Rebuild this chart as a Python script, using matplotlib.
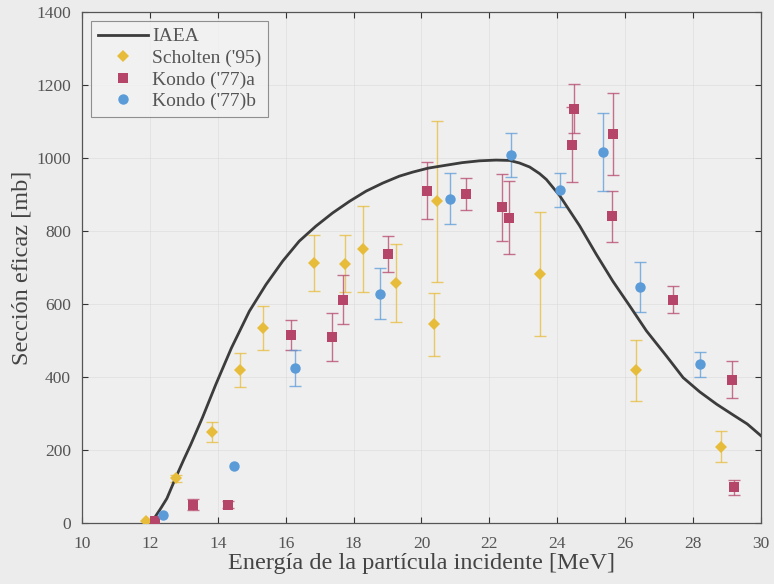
import numpy as np
import matplotlib
matplotlib.use("Agg")
import matplotlib.pyplot as plt

# IAEA evaluated curve
iaea_E = [11.95, 12.1, 12.3, 12.5, 12.76, 13.0, 13.2, 13.55, 13.94, 14.4, 14.93, 15.42,
          15.91, 16.4, 16.89, 17.38, 17.88, 18.37, 18.86, 19.35, 19.74, 20.2, 20.73,
          21.2, 21.71, 22.2, 22.6, 22.89, 23.19, 23.48, 23.68, 24.07, 24.17, 24.66,
          25.15, 25.64, 26.14, 26.63, 27.22, 27.71, 28.2, 28.7, 29.18, 29.6, 30.0]
iaea_sigma = [0, 10, 38, 68, 125, 175, 215, 290, 380, 480, 581, 654,
              718, 773, 814, 850, 882, 910, 932, 951, 962, 973, 981,
              988, 993, 995, 994, 987, 976, 958, 942, 898, 884, 815,
              737, 663, 595, 527, 458, 399, 360, 326, 297, 272, 240]

# Scholten ('95)
sch_E = [11.88, 12.76, 13.84, 14.64, 15.33, 16.84, 17.75, 18.27, 19.25, 20.38, 20.46, 23.48, 26.31, 28.84]
sch_sigma = [5, 123, 250, 419, 536, 713, 711, 752, 658, 545, 882, 683, 419, 210]
sch_err = [0, 10, 27, 47, 60, 78, 78, 118, 106, 87, 220, 170, 83, 43]

# Kondo ('77)a
ka_E = [12.15, 13.27, 14.3, 16.16, 17.37, 17.70, 19.0, 20.16, 21.32, 22.37, 22.58,
        24.44, 24.49, 25.62, 25.64, 27.41, 29.15, 29.2]
ka_sigma = [5, 51, 51, 515, 510, 613, 738, 911, 902, 866, 837, 1037, 1136, 841, 1066, 613, 393, 98]
ka_err = [0, 15, 10, 41, 65, 67, 50, 78, 44, 92, 100, 103, 68, 70, 112, 38, 51, 21]

# Kondo ('77)b
kb_E = [12.39, 14.48, 16.28, 18.79, 20.83, 22.65, 24.08, 25.36, 26.44, 28.2]
kb_sigma = [23, 157, 425, 629, 889, 1010, 913, 1017, 648, 435]
kb_err = [0, 0, 50, 70, 70, 60, 47, 107, 68, 34]

plt.rcParams['font.family'] = ['Liberation Serif', 'DejaVu Serif']

bg = '#ececec'
fig = plt.figure(figsize=(7.74, 5.84), dpi=100, facecolor=bg)
ax = fig.add_axes([0.106, 0.104, 0.877, 0.875], facecolor='#efefef')

c_line = '#3c3c3c'
c_yel = '#e6bc3a'
c_red = '#b5466a'
c_blue = '#5b9bd8'

ax.plot(iaea_E, iaea_sigma, color=c_line, lw=2.0, label='IAEA', zorder=3)

series = [
    (sch_E, sch_sigma, sch_err, c_yel, 'D', 6, "Scholten ('95)"),
    (ka_E, ka_sigma, ka_err, c_red, 's', 6.5, "Kondo ('77)a"),
    (kb_E, kb_sigma, kb_err, c_blue, 'o', 7.5, "Kondo ('77)b"),
]
for E, s, e, col, mk, ms, lab in series:
    E = np.array(E)
    s = np.array(s)
    e = np.array(e)
    m = e > 0
    ax.errorbar(E[m], s[m], yerr=e[m], fmt='none', ecolor=col, elinewidth=1.0, capsize=4,
                capthick=1.0, alpha=0.75, zorder=2)
    ax.plot(E, s, linestyle='none', marker=mk, color=col, markersize=ms,
            markeredgewidth=0, label=lab, zorder=4)

ax.set_xlim(10, 30)
ax.set_ylim(0, 1400)
ax.set_xticks(np.arange(10, 31, 2))
ax.set_yticks(np.arange(0, 1401, 200))
ax.tick_params(direction='in', top=True, right=True, length=4, width=0.8,
               labelsize=12.5, colors='#333333', labelcolor='#555555')
ax.tick_params(axis='x', pad=9)
ax.tick_params(axis='y', pad=8)
for sp in ax.spines.values():
    sp.set_color('#555555')
    sp.set_linewidth(0.9)
ax.grid(True, color='#d8d8d8', lw=0.6, alpha=0.6)
ax.set_axisbelow(True)

ax.set_xlabel('Energía de la partícula incidente [MeV]', fontsize=17.5, color='#444444', labelpad=1)
ax.set_ylabel('Sección eficaz [mb]', fontsize=17.5, color='#444444', labelpad=3)

leg = ax.legend(loc='upper left', fontsize=14, frameon=True, fancybox=False,
                borderpad=0.35, handlelength=2.6, handletextpad=0.2, labelspacing=0.2,
                borderaxespad=0.45)
leg.get_frame().set_edgecolor('#777777')
leg.get_frame().set_facecolor('#f2f2f2')
leg.get_frame().set_linewidth(0.8)
for t in leg.get_texts():
    t.set_color('#555555')

fig.savefig('out.png', dpi=100, facecolor=bg)
